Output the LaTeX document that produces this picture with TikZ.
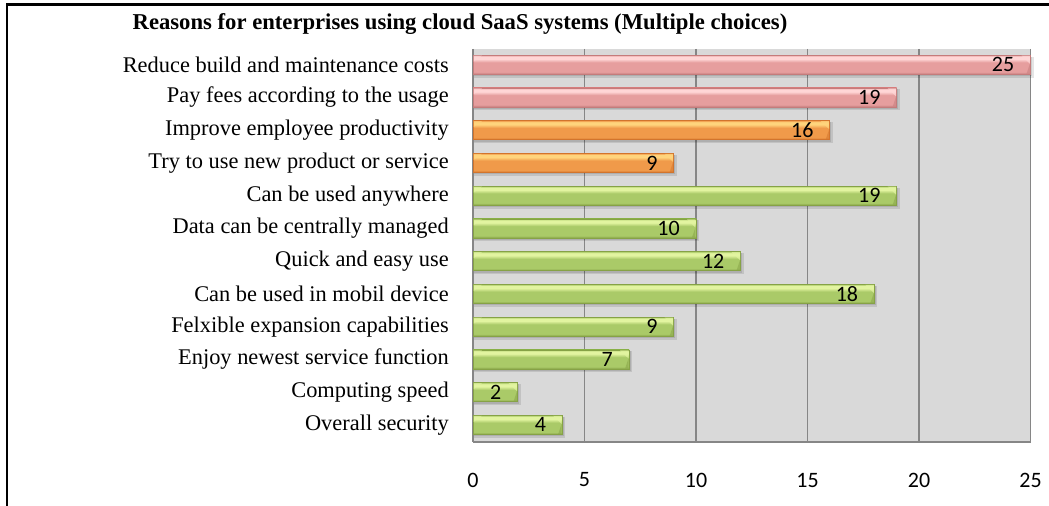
\documentclass[tikz,border=0pt]{standalone}
\usepackage{fontspec}
\setmainfont{Liberation Serif}
\newfontfamily\calfont{Carlito}
\definecolor{plotgray}{RGB}{217,217,217}
\definecolor{gridc}{RGB}{134,134,134}
\definecolor{pinkD}{RGB}{196,124,124}
\definecolor{pinkM}{RGB}{230,158,158}
\definecolor{pinkL}{RGB}{255,214,214}
\definecolor{orangeD}{RGB}{210,116,44}
\definecolor{orangeM}{RGB}{240,154,74}
\definecolor{orangeL}{RGB}{255,212,124}
\definecolor{greenD}{RGB}{134,162,70}
\definecolor{greenM}{RGB}{170,202,104}
\definecolor{greenL}{RGB}{226,244,160}
\pgfdeclareverticalshading{pinkshade}{100bp}{color(0bp)=(pinkD); color(25bp)=(pinkD); color(31bp)=(pinkM); color(56bp)=(pinkM); color(65bp)=(pinkL); color(71bp)=(pinkL); color(75bp)=(pinkM); color(100bp)=(pinkM)}
\pgfdeclareverticalshading{orangeshade}{100bp}{color(0bp)=(orangeD); color(25bp)=(orangeD); color(31bp)=(orangeM); color(56bp)=(orangeM); color(65bp)=(orangeL); color(71bp)=(orangeL); color(75bp)=(orangeM); color(100bp)=(orangeM)}
\pgfdeclareverticalshading{greenshade}{100bp}{color(0bp)=(greenD); color(25bp)=(greenD); color(31bp)=(greenM); color(56bp)=(greenM); color(65bp)=(greenL); color(71bp)=(greenL); color(75bp)=(greenM); color(100bp)=(greenM)}
\tikzset{
  catlabel/.style={anchor=east, inner sep=0pt, font=\fontsize{16.8}{19}\selectfont},
  vallabel/.style={anchor=east, inner sep=0pt, font=\calfont\fontsize{16.5}{18}\selectfont},
  ticklabel/.style={anchor=center, inner sep=0pt, font=\calfont\fontsize{16.5}{18}\selectfont},
  gridline/.style={draw=gridc, line width=1.1pt},
  barshadow/.style={fill=black, opacity=0.1},
}
\begin{document}
\begin{tikzpicture}[x=0.75pt,y=-0.75pt]
\useasboundingbox (0,0) rectangle (1049,506);
% frame
\draw[line width=1.8pt] (6.8,506) -- (6.8,4.5) -- (1049,4.5);
% title
\node[inner sep=0pt] (title) at (460,24) {\resizebox{491pt}{!}{\bfseries Reasons for enterprises using cloud SaaS systems (Multiple choices)}};
% plot area
\fill[plotgray] (473,49) rectangle (1031,442);
\foreach \k in {0,...,5} {
  \draw[gridline] ({473+22.3*5*\k},49) -- ({473+22.3*5*\k},442);
  \node[ticklabel] (tick\k) at ({473+22.3*5*\k},480) {\pgfmathparse{int(5*\k)}\pgfmathresult};
}
\draw[gridline] (473,442) -- (1031,442);
% bars
\foreach \lab/\v/\c [count=\i from 0] in {
  Reduce build and maintenance costs/25/pink,
  Pay fees according to the usage/19/pink,
  Improve employee productivity/16/orange,
  Try to use new product or service/9/orange,
  Can be used anywhere/19/green,
  Data can be centrally managed/10/green,
  Quick and easy use/12/green,
  Can be used in mobil device/18/green,
  Felxible expansion capabilities/9/green,
  Enjoy newest service function/7/green,
  Computing speed/2/green,
  Overall security/4/green} {
  \pgfmathsetmacro{\yc}{49+32.75*(\i+0.5)-0.7}
  \pgfmathsetmacro{\xe}{473+22.3*\v}
  \fill[barshadow] (474,{\yc-8}) rectangle ({\xe+3},{\yc+13});
  \fill[barshadow] (474,{\yc-8}) rectangle ({\xe+1.5},{\yc+11.5});
  \path[shading=\c shade, draw=\c D, line width=0.5pt] (473,{\yc-9.5}) rectangle (\xe,{\yc+9.5});
  \fill[\c L, opacity=0.7] ({\xe-9},{\yc-9}) -- ({\xe-0.6},{\yc-9}) -- ({\xe-0.6},{\yc-1}) -- cycle;
  \fill[\c D, opacity=0.5] ({\xe-0.6},{\yc-1}) -- ({\xe-0.6},{\yc+9}) -- ({\xe-4},{\yc+9}) -- cycle;
  \fill[\c L, opacity=0.6] (473.6,{\yc-9}) -- (482,{\yc-9}) -- (473.6,{\yc-3}) -- cycle;
  \node[catlabel] (lab\i) at (449,\yc) {\lab};
  \node[vallabel] (val\i) at ({\xe-16},\yc) {\v};
}
\end{tikzpicture}
\end{document}
